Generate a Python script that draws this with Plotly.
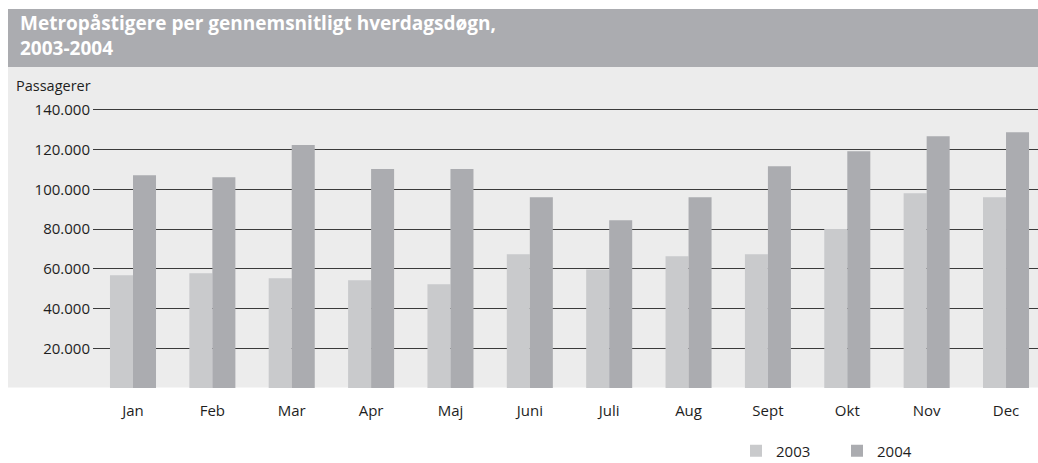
import plotly.graph_objects as go

months = ["Jan", "Feb", "Mar", "Apr", "Maj", "Juni", "Juli", "Aug", "Sept", "Okt", "Nov", "Dec"]
values_2003 = [56800, 57800, 55300, 54300, 52200, 67400, 59600, 66300, 67400, 80100, 98100, 96100]
values_2004 = [107100, 106100, 122300, 110200, 110200, 96100, 84500, 96100, 111700, 119200, 126800, 128800]
tick_vals = [20000, 40000, 60000, 80000, 100000, 120000, 140000]
tick_text = ["20.000", "40.000", "60.000", "80.000", "100.000", "120.000", "140.000"]

title_line1 = "Metropåstigere per gennemsnitligt hverdagsdøgn,"
title_line2 = "2003-2004"
y_title = "Passagerer"

FONT = "Open Sans"
TXT = "#1e1e1e"
C2003 = "#c9cacc"
C2004 = "#abacb0"

W, H = 1038, 463
L, R, T, B = 93, 0, 100, 75
PW, PH = W - L - R, H - T - B

def px_x(x):
    return (x - L) / PW

def px_y(y):
    return (H - B - y) / PH

fig = go.Figure()
fig.add_trace(go.Bar(x=months, y=values_2003, name="2003", marker=dict(color=C2003, line=dict(width=0))))
fig.add_trace(go.Bar(x=months, y=values_2004, name="2004", marker=dict(color=C2004, line=dict(width=0))))

fig.update_layout(
    width=W, height=H,
    margin=dict(l=L, r=R, t=T, b=B, pad=0),
    paper_bgcolor="white",
    plot_bgcolor="rgba(0,0,0,0)",
    barmode="group",
    bargap=0.42,
    bargroupgap=0,
    font=dict(family=FONT, size=15, color=TXT),
    showlegend=True,
    legend=dict(
        orientation="h",
        xref="container", yref="container",
        x=736 / W, y=1 - 451 / H,
        xanchor="left", yanchor="middle",
        font=dict(family=FONT, size=15, color=TXT),
        entrywidth=56, entrywidthmode="pixels",
        bgcolor="rgba(0,0,0,0)",
        traceorder="normal",
    ),
    xaxis=dict(
        range=[-0.504, 11.403],
        showgrid=False, zeroline=False, showline=False,
        ticks="", ticklabelstandoff=12,
        tickfont=dict(family=FONT, size=15, color=TXT),
        fixedrange=True,
    ),
    yaxis=dict(
        range=[0, 145000],
        tickvals=tick_vals, ticktext=tick_text,
        showgrid=True, gridcolor="#3a3a3a", gridwidth=1.2,
        zeroline=False, showline=False, ticks="",
        ticklabelstandoff=2,
        tickfont=dict(family=FONT, size=15, color=TXT),
        fixedrange=True,
    ),
    shapes=[
        dict(type="rect", xref="paper", yref="paper", layer="below",
             x0=px_x(8), x1=px_x(W), y0=px_y(67), y1=px_y(9),
             fillcolor=C2004, line=dict(width=0)),
        dict(type="rect", xref="paper", yref="paper", layer="below",
             x0=px_x(8), x1=px_x(W), y0=px_y(387.5), y1=px_y(67),
             fillcolor="#ececec", line=dict(width=0)),
    ],
    annotations=[
        dict(text="<b>" + title_line1 + "<br>" + title_line2 + "</b>",
             xref="paper", yref="paper", align="left",
             x=px_x(18), y=px_y(35), xanchor="left", yanchor="middle",
             showarrow=False, font=dict(family=FONT, size=19, color="white")),
        dict(text=y_title, xref="paper", yref="paper",
             x=px_x(14), y=px_y(86), xanchor="left", yanchor="middle",
             showarrow=False, font=dict(family=FONT, size=14.5, color=TXT)),
    ],
)

fig.write_html(
    "out.html",
    config={"displayModeBar": False},
    post_script="document.body.style.margin='0';document.body.style.padding='0';document.documentElement.style.overflow='hidden';",
)
